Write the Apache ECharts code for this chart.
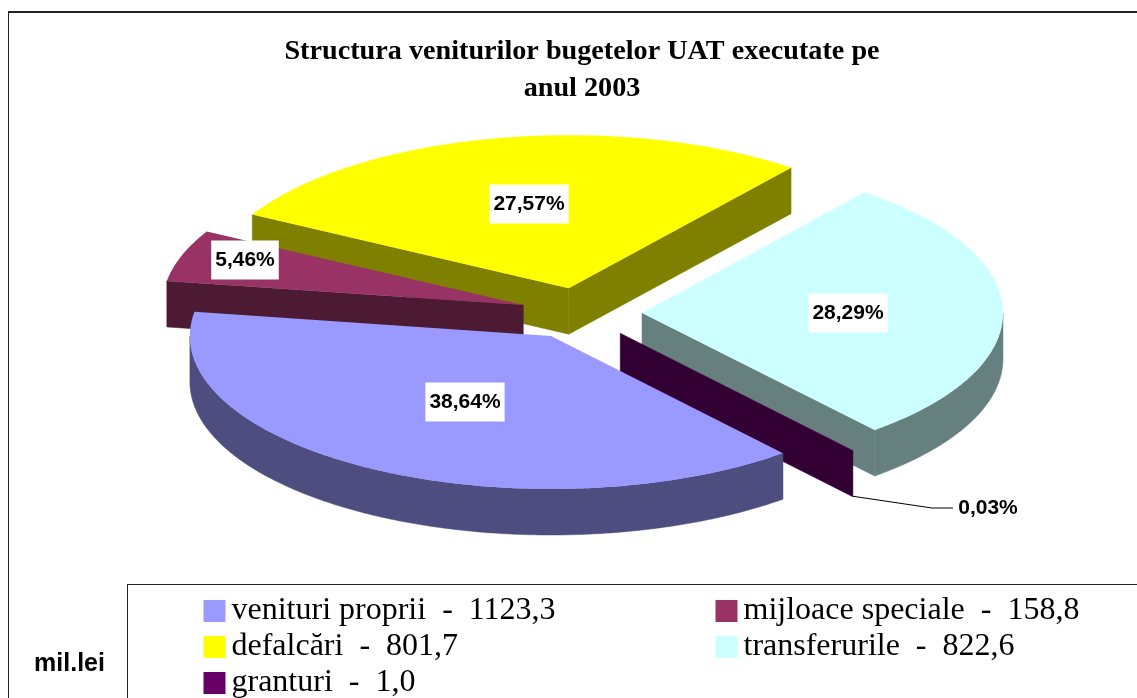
<!DOCTYPE html>
<html>
<head>
<meta charset="utf-8">
<style>
  html, body { margin: 0; padding: 0; background: #fff; }
  #main { width: 1137px; height: 698px; }
</style>
<script src="https://cdn.jsdelivr.net/npm/echarts@6/dist/echarts.min.js"></script>
</head>
<body>
<div id="main"></div>
<script>
// data
const categories = ['venituri proprii', 'mijloace speciale', 'defalcări', 'transferurile', 'granturi'];
const amounts = [1123.3, 158.8, 801.7, 822.6, 1.0];
const amountLabels = ['1123,3', '158,8', '801,7', '822,6', '1,0'];
const titleLines = ['Structura veniturilor bugetelor UAT executate pe', 'anul 2003'];
const unitLabel = 'mil.lei';

// colours
const topColors = ['#9999ff', '#993366', '#ffff00', '#ccffff', '#660066'];
const sideColors = ['#4d4d80', '#4d1a33', '#808000', '#668080', '#330033'];

// layout of the pie, slices are painted back to front
const cx = 581, cy = 313.5, rx = 361, ry = 153, depth = 46, explode = 61;
const firstAngle = -50;
const paintOrder = [2, 1, 3, 4, 0];
const labelPos = [[465, 402], [245, 260], [529, 204], [848, 313], [988, 508]];
const legendPos = [[203.5, 595], [715.5, 595], [203.5, 631], [715.5, 631], [203.5, 667]];

const total = amounts.reduce((a, b) => a + b, 0);
const rad = d => d * Math.PI / 180;

// angles go clockwise from firstAngle
let cursor = firstAngle;
const slices = amounts.map((v, i) => {
	const from = cursor;
	const to = cursor - v / total * 360;
	cursor = to;
	const mid = (from + to) / 2;
	return {
		from, to,
		ox: cx + explode * Math.cos(rad(mid)),
		oy: cy - explode * Math.sin(rad(mid)) * ry / rx,
		percent: (v / total * 100).toFixed(2).replace('.', ',') + '%'
	};
});

function rimPoint(s, deg, drop) {
	return [s.ox + rx * Math.cos(rad(deg)), s.oy - ry * Math.sin(rad(deg)) + drop];
}

function radialFace(s, deg, style) {
	const points = [[s.ox, s.oy], rimPoint(s, deg, 0), rimPoint(s, deg, depth), [s.ox, s.oy + depth]];
	return { type: 'polygon', shape: { points }, style };
}

function sliceShapes(i) {
	const s = slices[i];
	const steps = [];
	for (let d = s.from; d > s.to; d -= 0.5) steps.push(d);
	steps.push(s.to);

	const side = { fill: sideColors[i], stroke: sideColors[i], lineWidth: 0.5 };
	const children = [];
	// a cut face shows only when the slice lies above it on screen
	if (Math.cos(rad(s.from)) < 0) children.push(radialFace(s, s.from, side));
	if (Math.cos(rad(s.to)) > 0) children.push(radialFace(s, s.to, side));

	const front = steps.filter(d => Math.sin(rad(d)) <= 0);
	if (front.length > 1) {
		const upper = front.map(d => rimPoint(s, d, 0));
		const lower = front.map(d => rimPoint(s, d, depth)).reverse();
		children.push({ type: 'polygon', shape: { points: upper.concat(lower) }, style: side });
	}
	children.push({
		type: 'polygon',
		shape: { points: [[s.ox, s.oy]].concat(steps.map(d => rimPoint(s, d, 0))) },
		style: { fill: topColors[i] }
	});
	return { type: 'group', children };
}

const sliceSeries = categories.map((name, i) => ({
	type: 'custom',
	name,
	coordinateSystem: 'none',
	silent: true,
	z: 2 + paintOrder.indexOf(i),
	itemStyle: { color: topColors[i] },
	data: [amounts[i]],
	renderItem: () => sliceShapes(i)
}));

// percent labels and the leader of the smallest slice
const labelSeries = {
	type: 'custom',
	coordinateSystem: 'none',
	silent: true,
	z: 10,
	data: [0],
	renderItem: () => {
		const low = rimPoint(slices[4], slices[4].from, depth);
		const children = [{
			type: 'polyline',
			shape: { points: [low, [932, 508], [953, 508]] },
			style: { stroke: '#000', lineWidth: 1, fill: null }
		}];
		slices.forEach((s, i) => {
			children.push({
				type: 'text',
				x: labelPos[i][0],
				y: labelPos[i][1],
				style: {
					text: s.percent,
					align: 'center',
					verticalAlign: 'middle',
					fill: '#000',
					font: 'bold 21px "Liberation Sans"',
					backgroundColor: i < 4 ? '#fff' : null,
					padding: [9, 4, 9, 4]
				}
			});
		});
		return { type: 'group', children };
	}
};

const chart = echarts.init(document.getElementById('main'), null, { renderer: 'canvas' });
chart.setOption({
	animation: false,
	backgroundColor: '#fff',
	title: {
		text: titleLines.join('\n'),
		left: 577,
		top: 28,
		textAlign: 'center',
		textStyle: {
			fontFamily: 'Liberation Serif',
			fontWeight: 'bold',
			fontSize: 28.2,
			lineHeight: 37,
			color: '#000'
		}
	},
	legend: categories.map((name, i) => ({
		data: [name],
		left: legendPos[i][0],
		top: legendPos[i][1],
		padding: 0,
		icon: 'rect',
		itemWidth: 22,
		itemHeight: 22,
		itemStyle: { borderWidth: 0 },
		selectedMode: false,
		formatter: n => n + '  -  ' + amountLabels[categories.indexOf(n)],
		textStyle: { fontFamily: 'Liberation Serif', fontSize: 32, color: '#000', padding: [-4, 0, 0, 1] }
	})),
	graphic: [
		{ type: 'line', shape: { x1: 8, y1: 12, x2: 1137, y2: 12 }, style: { stroke: '#222', lineWidth: 2 } },
		{ type: 'line', shape: { x1: 8.5, y1: 12, x2: 8.5, y2: 698 }, style: { stroke: '#222', lineWidth: 1 } },
		{ type: 'line', shape: { x1: 127, y1: 584.5, x2: 1137, y2: 584.5 }, style: { stroke: '#222', lineWidth: 1 } },
		{ type: 'line', shape: { x1: 127.5, y1: 584, x2: 127.5, y2: 698 }, style: { stroke: '#222', lineWidth: 1 } },
		{
			type: 'text', x: 69.5, y: 664,
			style: { text: unitLabel, align: 'center', verticalAlign: 'middle', fill: '#000', font: 'bold 25px "Liberation Sans"' }
		}
	],
	series: sliceSeries.concat(labelSeries)
});
</script>
</body>
</html>
